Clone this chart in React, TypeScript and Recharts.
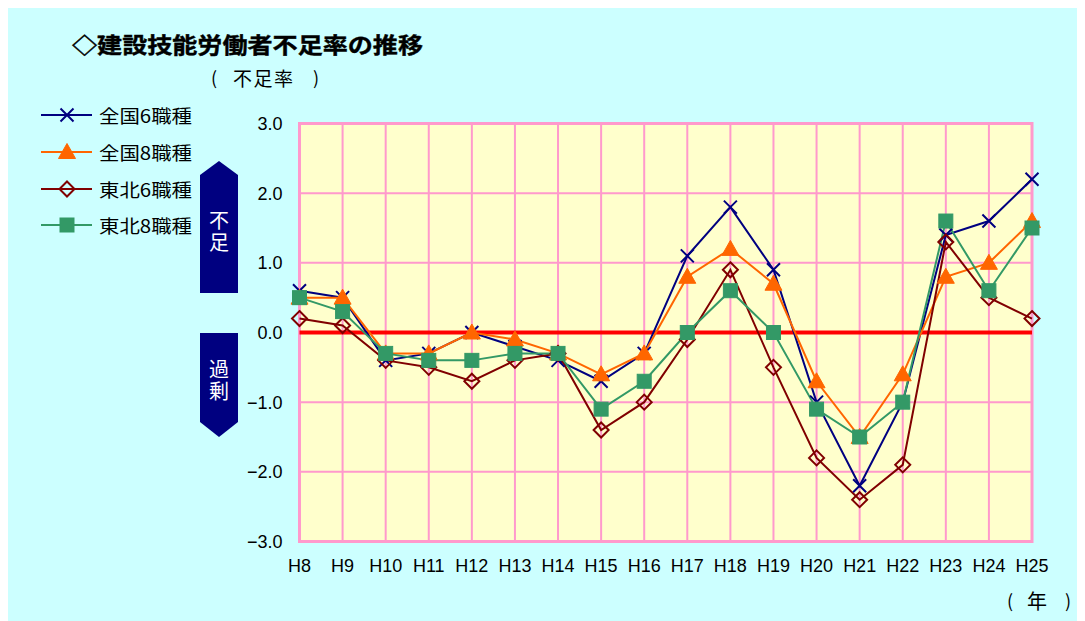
import React from 'react';
import { LineChart, Line, XAxis, YAxis, CartesianGrid, ReferenceLine, ReferenceArea, Legend } from 'recharts';

const categories = ['H8', 'H9', 'H10', 'H11', 'H12', 'H13', 'H14', 'H15', 'H16', 'H17', 'H18', 'H19', 'H20', 'H21', 'H22', 'H23', 'H24', 'H25'];
const national6 = [0.6, 0.5, -0.4, -0.3, 0.0, -0.2, -0.4, -0.7, -0.3, 1.1, 1.8, 0.9, -1.0, -2.2, -1.0, 1.4, 1.6, 2.2];
const national8 = [0.5, 0.5, -0.3, -0.3, 0.0, -0.1, -0.3, -0.6, -0.3, 0.8, 1.2, 0.7, -0.7, -1.5, -0.6, 0.8, 1.0, 1.6];
const tohoku6 = [0.2, 0.1, -0.4, -0.5, -0.7, -0.4, -0.3, -1.4, -1.0, -0.1, 0.9, -0.5, -1.8, -2.4, -1.9, 1.3, 0.5, 0.2];
const tohoku8 = [0.5, 0.3, -0.3, -0.4, -0.4, -0.3, -0.3, -1.1, -0.7, 0.0, 0.6, 0.0, -1.1, -1.5, -1.0, 1.6, 0.6, 1.5];
const yTicks = [-3, -2, -1, 0, 1, 2, 3];
const seriesNames = ['全国6職種', '全国8職種', '東北6職種', '東北8職種'];

const data = categories.map((c, i) => ({
  year: c,
  n6: national6[i],
  n8: national8[i],
  t6: tohoku6[i],
  t8: tohoku8[i],
}));

const NAVY = '#000080';
const ORANGE = '#FF6600';
const MAROON = '#800000';
const GREEN = '#339966';
const PINK = '#FF99CC';
const JP = '"Noto Sans CJK JP", "Noto Sans", sans-serif';
const LAT = '"Liberation Sans", Arial, sans-serif';

const xShape = (cx: number, cy: number, k?: any) => (
  <path key={k} d={`M${cx - 6.5},${cy - 6.5}L${cx + 6.5},${cy + 6.5}M${cx - 6.5},${cy + 6.5}L${cx + 6.5},${cy - 6.5}`} stroke={NAVY} strokeWidth={2} fill="none" />
);
const triShape = (cx: number, cy: number, k?: any) => (
  <path key={k} d={`M${cx},${cy - 8.5}L${cx + 8.5},${cy + 6.5}L${cx - 8.5},${cy + 6.5}Z`} fill={ORANGE} stroke={ORANGE} strokeWidth={1} />
);
const diaShape = (cx: number, cy: number, k?: any) => (
  <path key={k} d={`M${cx},${cy - 7.5}L${cx + 7.5},${cy}L${cx},${cy + 7.5}L${cx - 7.5},${cy}Z`} fill="none" stroke={MAROON} strokeWidth={2} />
);
const sqShape = (cx: number, cy: number, k?: any) => (
  <rect key={k} x={cx - 7} y={cy - 7} width={14} height={14} fill={GREEN} stroke={GREEN} strokeWidth={1} />
);

const mk = (fn: any) => (p: any) => {
  if (p.cx == null || p.cy == null) return <g key={`e${p.index}`} />;
  return fn(p.cx, p.cy, `d${p.index}`);
};

const legendRows = [
  { name: seriesNames[0], color: NAVY, shape: xShape, y: 108 },
  { name: seriesNames[1], color: ORANGE, shape: triShape, y: 145 },
  { name: seriesNames[2], color: MAROON, shape: diaShape, y: 182 },
  { name: seriesNames[3], color: GREEN, shape: sqShape, y: 218 },
];

const renderLegend = () => (
  <svg width={200} height={240} style={{ display: 'block' }}>
    {legendRows.map((r, i) => (
      <g key={i}>
        <line x1={33} x2={84} y1={r.y} y2={r.y} stroke={r.color} strokeWidth={2} />
        {r.shape(59, r.y)}
        <text x={91} y={r.y} dominantBaseline="central" fontFamily={JP} fontSize={18} fill="#000" textLength={93} lengthAdjust="spacingAndGlyphs">{r.name}</text>
      </g>
    ))}
  </svg>
);

const fmt = (v: number) => (v < 0 ? '−' + Math.abs(v).toFixed(1) : v.toFixed(1));

export default function App() {
  return (
    <div style={{ position: 'relative', width: 1077, height: 614, marginTop: -1, background: '#CCFFFF' }}>
      <LineChart
        width={1077}
        height={614}
        data={data}
        margin={{ top: 116.5, right: 53, bottom: 49.5, left: 231.5 }}
      >
        <CartesianGrid stroke={PINK} strokeWidth={2} fill="#FFFFCC" fillOpacity={1} />
        <XAxis
          dataKey="year"
          height={30}
          tickSize={0}
          tickMargin={18}
          axisLine={false}
          interval={0}
          tick={{ fill: '#000', fontSize: 18, fontFamily: LAT }}
        />
        <YAxis
          width={60}
          domain={[-3, 3]}
          ticks={yTicks}
          tickFormatter={fmt}
          tickSize={0}
          tickMargin={17}
          axisLine={false}
          tick={{ fill: '#000', fontSize: 18, fontFamily: LAT }}
        />
        <ReferenceArea x1="H8" x2="H25" y1={-3} y2={3} fill="none" stroke={PINK} strokeWidth={3} ifOverflow="visible" />
        <ReferenceLine y={0} stroke="#FF0000" strokeWidth={4} />
        <Legend
          layout="vertical"
          align="center"
          verticalAlign="middle"
          content={renderLegend}
          wrapperStyle={{ left: 0, top: 0, width: 200, height: 240 }}
        />
        <Line dataKey="n6" name={seriesNames[0]} stroke={NAVY} strokeWidth={2} dot={mk(xShape)} activeDot={false} isAnimationActive={false} />
        <Line dataKey="n8" name={seriesNames[1]} stroke={ORANGE} strokeWidth={2} dot={mk(triShape)} activeDot={false} isAnimationActive={false} />
        <Line dataKey="t6" name={seriesNames[2]} stroke={MAROON} strokeWidth={2} dot={mk(diaShape)} activeDot={false} isAnimationActive={false} />
        <Line dataKey="t8" name={seriesNames[3]} stroke={GREEN} strokeWidth={2} dot={mk(sqShape)} activeDot={false} isAnimationActive={false} />
      </LineChart>
      <svg width={1077} height={614} style={{ position: 'absolute', left: 0, top: 0, pointerEvents: 'none' }}>
        <text x={64} y={36} dominantBaseline="central" fontFamily={JP} fontWeight="bold" fontSize={22} fill="#000" stroke="#000" strokeWidth={0.4} textLength={351} lengthAdjust="spacingAndGlyphs">◇建設技能労働者不足率の推移</text>
        <text x={203} y={70} dominantBaseline="central" fontFamily={JP} fontSize={18} fill="#000">(</text>
        <text x={225} y={70} dominantBaseline="central" fontFamily={JP} fontSize={19} fill="#000" textLength={60} lengthAdjust="spacing">不足率</text>
        <text x={305} y={70} dominantBaseline="central" fontFamily={JP} fontSize={18} fill="#000">)</text>
        <text x={999} y={593} dominantBaseline="central" fontFamily={JP} fontSize={18} fill="#000">(</text>
        <text x={1019} y={593} dominantBaseline="central" fontFamily={JP} fontSize={20} fill="#000">年</text>
        <text x={1057} y={593} dominantBaseline="central" fontFamily={JP} fontSize={18} fill="#000">)</text>
        <path d="M192,168L211,154L230,168L230,286L192,286Z" fill={NAVY} />
        <text x={211} y={203} writingMode="vertical-rl" letterSpacing={2} fontFamily={JP} fontSize={20} fill="#fff">不足</text>
        <path d="M192,326L230,326L230,415L211,430L192,415Z" fill={NAVY} />
        <text x={211} y={352} writingMode="vertical-rl" letterSpacing={2} fontFamily={JP} fontSize={20} fill="#fff">過剰</text>
      </svg>
    </div>
  );
}
